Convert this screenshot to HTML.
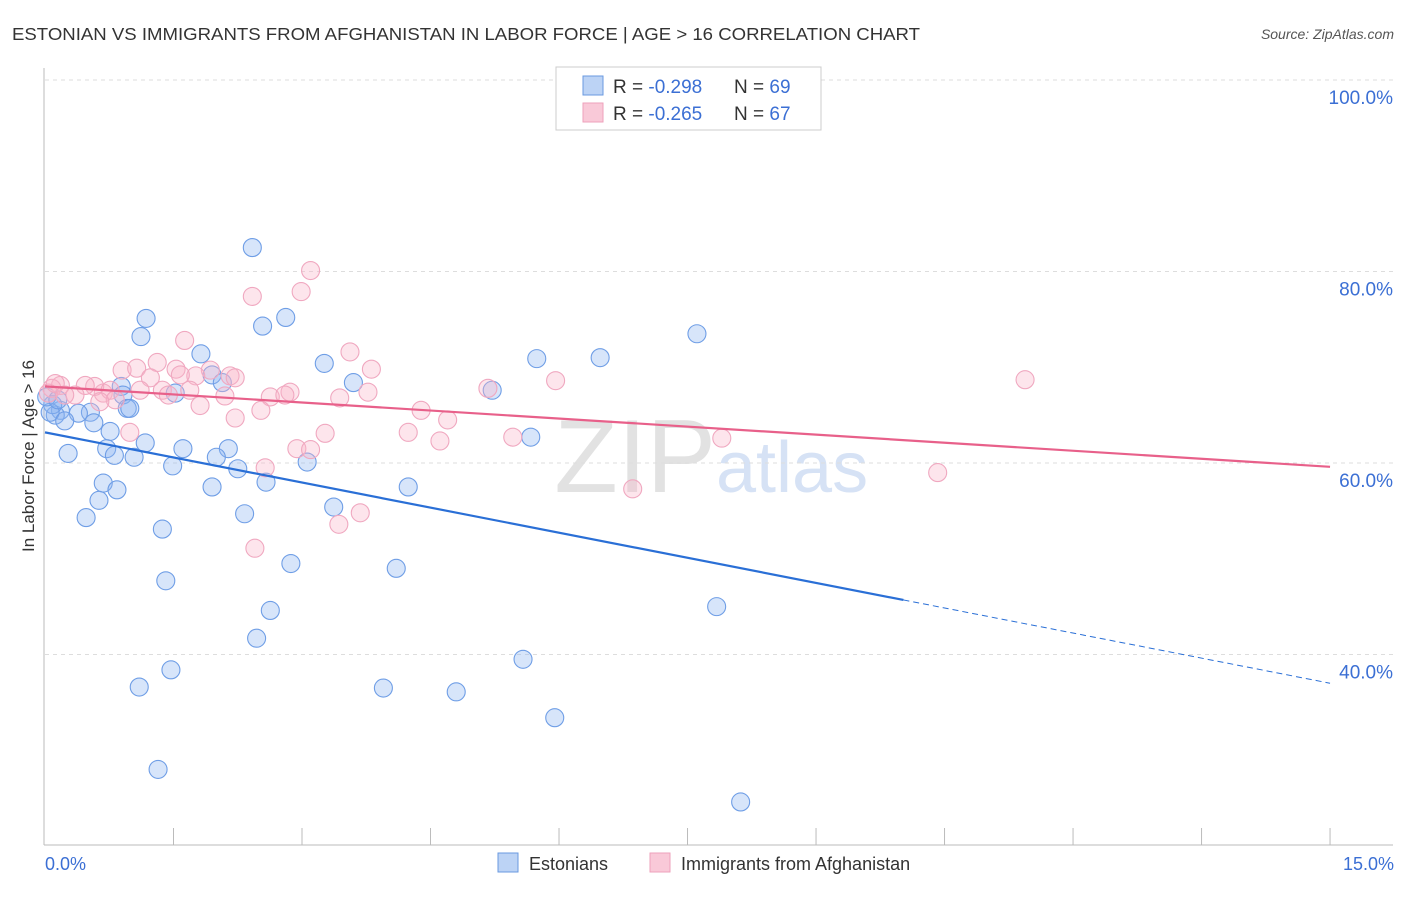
<!DOCTYPE html>
<html><head><meta charset="utf-8"><style>
body{margin:0;background:#fff;font-family:"Liberation Sans",sans-serif;}
svg text{font-family:"Liberation Sans",sans-serif;}
</style></head><body>
<svg id="chart" width="1406" height="892" xmlns="http://www.w3.org/2000/svg">
<text x="12" y="40" font-size="17.5" fill="#333" textLength="908" lengthAdjust="spacingAndGlyphs">ESTONIAN VS IMMIGRANTS FROM AFGHANISTAN IN LABOR FORCE | AGE &gt; 16 CORRELATION CHART</text>
<text x="1394" y="39" font-size="14" fill="#555" font-style="italic" text-anchor="end">Source: ZipAtlas.com</text>
<text x="716" y="492" font-size="104" fill="#e2e2e2" text-anchor="end" font-family="Liberation Serif">ZIP</text>
<text x="716" y="492" font-size="72" fill="#d6e2f5">atlas</text>
<g id="grid"></g>
<g id="axes"></g>
<g id="pts"></g>
<g id="trends"></g>
<text transform="translate(34,456) rotate(-90)" font-size="17" fill="#333" text-anchor="middle">In Labor Force | Age &gt; 16</text>
<text x="45" y="870" font-size="18" fill="#3b6fd4">0.0%</text>
<text x="1394" y="870" font-size="18" fill="#3b6fd4" text-anchor="end">15.0%</text>
<g>
<rect x="556" y="67" width="265" height="63" fill="#fff" stroke="#ccc"/>
<rect x="583" y="76" width="20" height="19" fill="#bcd3f5" stroke="#6a9ae0"/>
<rect x="583" y="103" width="20" height="19" fill="#f9c9d8" stroke="#eea1bb"/>
<text x="613" y="93" font-size="19" fill="#333">R = <tspan fill="#3b6fd4">-0.298</tspan></text>
<text x="734" y="93" font-size="19" fill="#333">N = <tspan fill="#3b6fd4">69</tspan></text>
<text x="613" y="120" font-size="19" fill="#333">R = <tspan fill="#3b6fd4">-0.265</tspan></text>
<text x="734" y="120" font-size="19" fill="#333">N = <tspan fill="#3b6fd4">67</tspan></text>
</g>
<g>
<rect x="498" y="853" width="20" height="19" fill="#bcd3f5" stroke="#6a9ae0"/>
<text x="529" y="870" font-size="18" fill="#333">Estonians</text>
<rect x="650" y="853" width="20" height="19" fill="#f9c9d8" stroke="#eea1bb"/>
<text x="681" y="870" font-size="18" fill="#333">Immigrants from Afghanistan</text>
</g>
</svg>
<script>
const yTicks=[40,60,80,100];
const blueX=[2.42,1.18,2.54,2.81,1.12,1.82,3.26,1.95,3.60,2.07,1.52,0.89,0.91,0.96,0.99,0.53,0.39,0.18,0.12,0.09,0.06,0.23,0.57,0.76,1.17,1.61,2.14,0.72,0.81,1.04,2.00,3.06,1.49,2.25,2.58,0.27,0.68,0.84,1.95,0.63,0.48,3.37,4.24,2.33,1.37,2.87,4.10,1.41,2.63,2.47,1.10,1.47,3.95,4.80,5.58,5.95,1.32,8.12,7.84,7.61,5.74,6.48,5.22,5.67,0.02,0.15];
const blueY=[82.5,75.1,74.3,75.2,73.2,71.4,70.4,69.2,68.4,68.4,67.3,68.0,67.1,65.7,65.7,65.3,65.2,65.5,65.0,66.1,65.3,64.4,64.2,63.3,62.1,61.5,61.5,61.5,60.8,60.6,60.6,60.1,59.7,59.4,58.0,61.0,57.9,57.2,57.5,56.1,54.3,55.4,57.5,54.7,53.1,49.5,49.0,47.7,44.6,41.7,36.6,38.4,36.5,36.1,39.5,33.4,28.0,24.6,45.0,73.5,70.9,71.0,67.6,62.7,66.9,66.6];
const pinkX=[3.10,2.99,2.42,3.56,3.81,1.63,1.31,0.90,1.07,1.53,1.93,2.16,2.22,1.76,1.23,1.37,1.69,0.68,0.58,0.47,0.18,0.08,0.04,0.35,0.76,1.11,1.44,2.10,2.63,2.86,2.80,3.44,3.77,4.39,4.70,1.81,2.22,2.52,0.99,3.27,4.24,4.61,5.46,2.94,3.10,2.57,3.43,3.68,2.45,5.17,5.96,7.90,6.86,10.42,11.44,0.12,0.23,0.82,1.58,0.64];
const pinkY=[80.1,77.9,77.4,71.6,69.8,72.8,70.5,69.7,69.9,69.8,69.7,69.1,68.9,69.1,68.9,67.6,67.6,67.3,68.0,68.1,68.1,67.8,67.3,67.1,67.6,67.6,67.1,67.0,66.9,67.4,67.1,66.8,67.4,65.5,64.5,66.0,64.7,65.5,63.2,63.1,63.2,62.3,62.7,61.5,61.4,59.5,53.6,54.8,51.1,67.8,68.6,62.6,57.3,59.0,68.7,68.3,67.1,66.6,69.2,66.4];
const blueTrend=[63.2,37.0]; const blueSolidEnd=10.02;
const pinkTrend=[68.0,59.6];
const X=v=>45+v*85.67, Y=v=>80+(100-v)*9.575;
const NS='http://www.w3.org/2000/svg';
function mk(p,tag,at){const e=document.createElementNS(NS,tag);for(const k in at)e.setAttribute(k,at[k]);p.appendChild(e);return e;}
const grid=document.getElementById('grid'),axes=document.getElementById('axes'),pts=document.getElementById('pts'),tr=document.getElementById('trends');
yTicks.forEach(t=>{
 const l=mk(grid,'line',{x1:45,x2:1393,y1:Y(t),y2:Y(t),stroke:'#ddd','stroke-dasharray':'4,4'});
 
 
 const tx=mk(grid,'text',{x:1393,y:Y(t)+24,'font-size':19,fill:'#3b6fd4','text-anchor':'end'});tx.textContent=t.toFixed(1)+'%';
 
 
});
const al=mk(axes,'line',{x1:44,x2:44,y1:68,y2:845,stroke:'#bbb'});


const ab=mk(axes,'line',{x1:44,x2:1393,y1:845,y2:845,stroke:'#bbb'});


for(let i=1;i<=10;i++){const t=mk(axes,'line',{x1:X(i*1.5),x2:X(i*1.5),y1:828,y2:845,stroke:'#bbb'});
 
 }
blueX.forEach((v,i)=>{const c=mk(pts,'circle',{cx:X(v),cy:Y(blueY[i]),r:9,fill:'rgba(140,180,240,0.35)',stroke:'#6f9ee6','stroke-width':1.1});
 
 });
pinkX.forEach((v,i)=>{const c=mk(pts,'circle',{cx:X(v),cy:Y(pinkY[i]),r:9,fill:'rgba(248,180,200,0.35)',stroke:'#f0a8c0','stroke-width':1.1});
 
 });
const by=x=>blueTrend[0]+(blueTrend[1]-blueTrend[0])*x/15;
const b1=mk(tr,'line',{x1:X(0),y1:Y(blueTrend[0]),x2:X(blueSolidEnd),y2:Y(by(blueSolidEnd)),stroke:'#2a6fd6','stroke-width':2.2});


const b2=mk(tr,'line',{x1:X(blueSolidEnd),y1:Y(by(blueSolidEnd)),x2:X(15),y2:Y(blueTrend[1]),stroke:'#2a6fd6','stroke-width':1,'stroke-dasharray':'6,4'});


const p1=mk(tr,'line',{x1:X(0),y1:Y(pinkTrend[0]),x2:X(15),y2:Y(pinkTrend[1]),stroke:'#e8608a','stroke-width':2.2});


</script>
</body></html>
